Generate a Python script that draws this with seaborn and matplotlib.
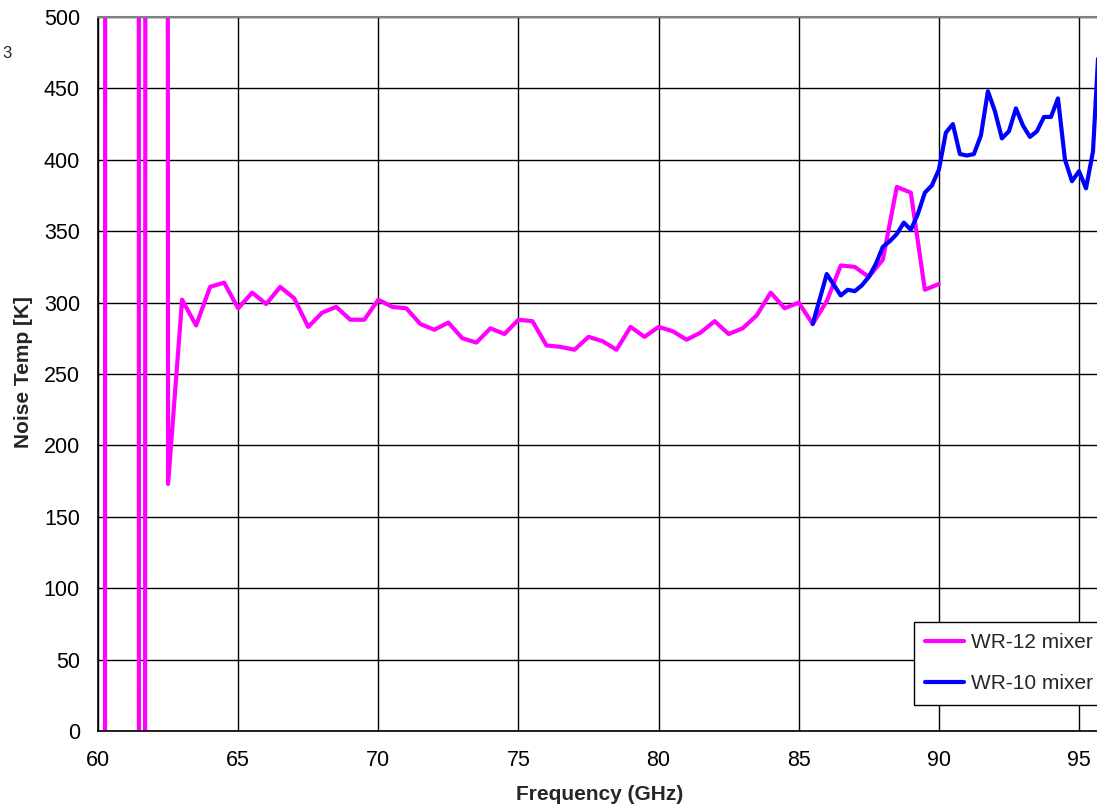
import matplotlib
matplotlib.use("Agg")
import matplotlib.pyplot as plt
import seaborn as sns
import pandas as pd

# WR-12 mixer sweep (0.5 GHz steps); the low band end is unstable (Y-factor ~ 1)
wr12_freq = [60.0, 60.5, 61.0, 61.5, 62.0, 62.5, 63.0, 63.5, 64.0, 64.5,
             65.0, 65.5, 66.0, 66.5, 67.0, 67.5, 68.0, 68.5, 69.0, 69.5,
             70.0, 70.5, 71.0, 71.5, 72.0, 72.5, 73.0, 73.5, 74.0, 74.5,
             75.0, 75.5, 76.0, 76.5, 77.0, 77.5, 78.0, 78.5, 79.0, 79.5,
             80.0, 80.5, 81.0, 81.5, 82.0, 82.5, 83.0, 83.5, 84.0, 84.5,
             85.0, 85.5, 86.0, 86.5, 87.0, 87.5, 88.0, 88.5, 89.0, 89.5,
             90.0]
wr12_temp = [-20000, 20000, 115000, -10000, 17800, 173, 302, 284, 311, 314,
             296, 307, 299, 311, 303, 283, 293, 297, 288, 288,
             302, 297, 296, 285, 281, 286, 275, 272, 282, 278,
             288, 287, 270, 269, 267, 276, 273, 267, 283, 276,
             283, 280, 274, 279, 287, 278, 282, 291, 307, 296,
             300, 285, 301, 326, 325, 318, 330, 381, 377, 309,
             313]

# WR-10 mixer sweep (0.25 GHz steps)
wr10_freq = [85.5, 86.0, 86.5, 86.75, 87.0, 87.25, 87.5, 87.75, 88.0, 88.25,
             88.5, 88.75, 89.0, 89.25, 89.5, 89.75, 90.0, 90.25, 90.5, 90.75,
             91.0, 91.25, 91.5, 91.75, 92.0, 92.25, 92.5, 92.75, 93.0, 93.25,
             93.5, 93.75, 94.0, 94.25, 94.5, 94.75, 95.0, 95.25, 95.5, 95.75]
wr10_temp = [285, 320, 305, 309, 308, 312, 318, 327, 339, 343,
             348, 356, 351, 362, 377, 382, 393, 419, 425, 404,
             403, 404, 417, 448, 434, 415, 420, 436, 424, 416,
             420, 430, 430, 443, 400, 385, 392, 380, 406, 497]

series_names = ["WR-12 mixer", "WR-10 mixer"]
series_colors = ["#FF00FF", "#0000FF"]

x_ticks = [60, 65, 70, 75, 80, 85, 90, 95]
y_ticks = [0, 50, 100, 150, 200, 250, 300, 350, 400, 450, 500]

df = pd.concat([
    pd.DataFrame({"freq": wr12_freq, "temp": wr12_temp, "mixer": series_names[0]}),
    pd.DataFrame({"freq": wr10_freq, "temp": wr10_temp, "mixer": series_names[1]}),
], ignore_index=True)

sns.set_style("white")
plt.rcParams["font.family"] = ["Liberation Sans", "DejaVu Sans"]

W, H = 1097, 807
X0, Y0, YTOP = 98, 731, 17          # plot-area edges in pixels
PX_PER_GHZ = (1079 - X0) / 35.0

fig = plt.figure(figsize=(W / 100, H / 100), dpi=100)
ax = fig.add_axes([X0 / W, (H - Y0) / H, 1 - X0 / W, (Y0 - YTOP) / H])

sns.lineplot(data=df, x="freq", y="temp", hue="mixer", hue_order=series_names,
             palette=dict(zip(series_names, series_colors)),
             estimator=None, sort=False, linewidth=3.0, ax=ax, legend=True)

ax.set_xlim(60, 60 + (W - X0) / PX_PER_GHZ)
ax.set_ylim(0, 500)
ax.set_xticks(x_ticks)
ax.set_yticks(y_ticks)
ax.tick_params(axis="both", labelsize=15.5, colors="black", direction="out",
               length=5, width=1.0)
ax.tick_params(axis="x", pad=9)
ax.tick_params(axis="y", pad=8)

ax.grid(True, color="black", linewidth=1.0)
ax.set_axisbelow(True)
for side in ("left", "bottom"):
    ax.spines[side].set_color("black")
    ax.spines[side].set_linewidth(1.2)
ax.spines["top"].set_color("#808080")
ax.spines["top"].set_linewidth(1.5)
ax.spines["right"].set_visible(False)

aw, ah = W - X0, Y0 - YTOP
ax.set_xlabel("Frequency (GHz)", fontsize=15, fontweight="bold")
ax.set_ylabel("Noise Temp [K]", fontsize=15, fontweight="bold")
ax.xaxis.set_label_coords((600 - X0) / aw, -(785 - Y0) / ah)
ax.yaxis.set_label_coords(-(X0 - 33) / aw, (Y0 - 372) / ah)

handles, labels = ax.get_legend_handles_labels()
leg = ax.legend(handles, labels, loc="upper left",
                bbox_to_anchor=(914 / W, 1 - 622 / H), bbox_transform=fig.transFigure,
                fontsize=15, frameon=True, fancybox=False, framealpha=1,
                edgecolor="black", borderpad=0.55, handlelength=1.85,
                handletextpad=0.35, labelspacing=1.05, borderaxespad=0)
leg.get_frame().set_linewidth(1.0)
for line in leg.get_lines():
    line.set_linewidth(3.0)

fig.text(12 / W, 1 - 53 / H, "3", fontsize=12, ha="right", va="center")

fig.savefig("out.png", dpi=100)
